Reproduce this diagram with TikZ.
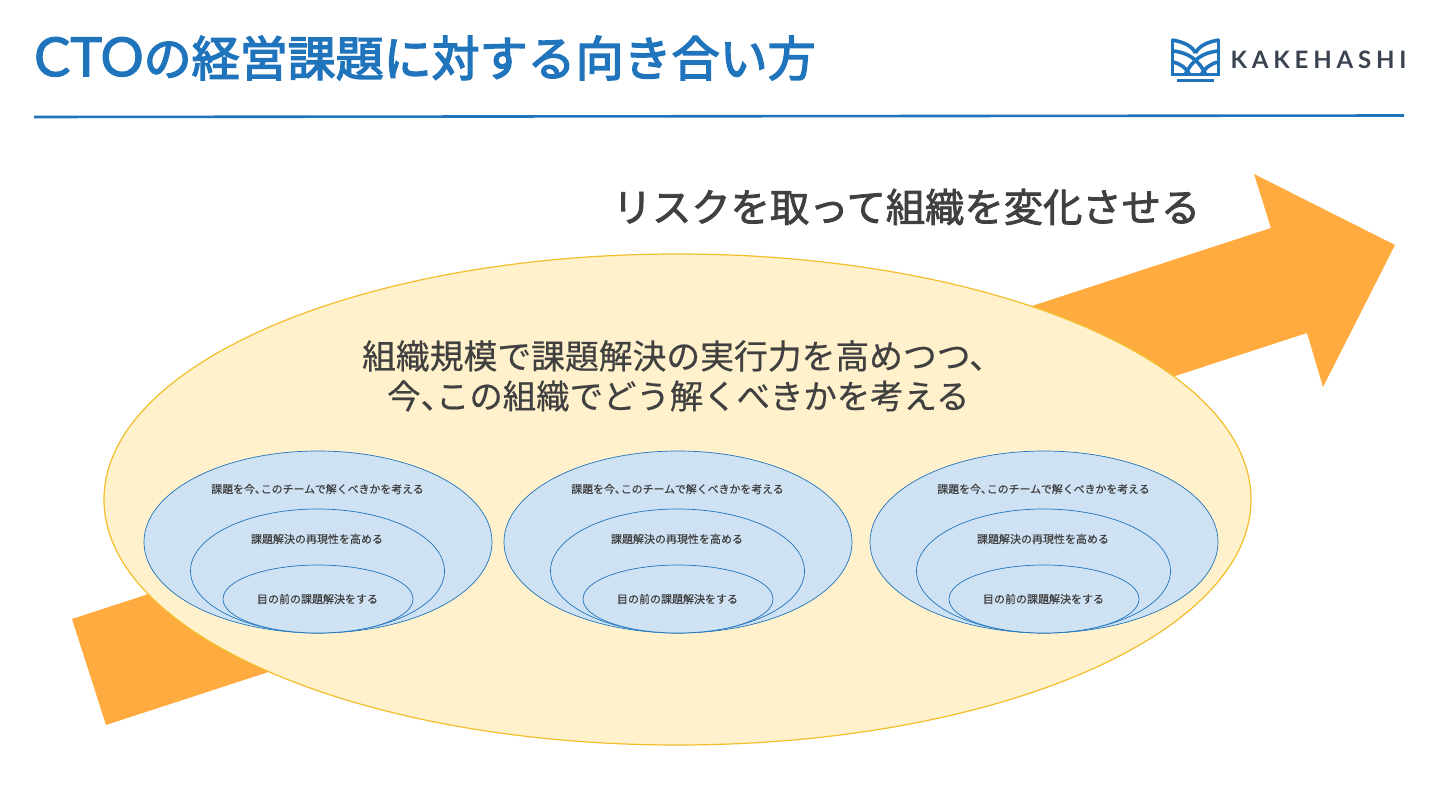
\documentclass[tikz,border=0pt]{standalone}
\usepackage{fontspec}
\setmainfont{Noto Sans CJK JP}
\newfontfamily\latinbold{Lato}
\newfontfamily\semibold[FakeBold=2]{Noto Sans CJK JP}
\newfontfamily\smallfont[FakeBold=0.5]{Noto Sans CJK JP}
\newfontfamily\titlefont[FakeBold=3]{Noto Sans CJK JP}
\newfontfamily\latintitle[FakeBold=2]{Lato}
\definecolor{kblue}{HTML}{1F74BC}
\definecolor{korange}{HTML}{FFAB40}
\definecolor{kcream}{HTML}{FFF1CC}
\definecolor{kgold}{HTML}{F2BE2C}
\definecolor{klight}{HTML}{CFE2F3}
\definecolor{ktext}{HTML}{404040}
\definecolor{kdark}{HTML}{3A4450}
\tikzset{
  outerell/.style={draw=kgold,fill=kcream,line width=1.2pt},
  blueell/.style={draw=kblue,fill=klight,line width=0.7pt},
  bigtxt/.style={text=ktext,inner sep=0pt,align=center},
  smalltxt/.style={text=ktext,inner sep=0pt,font=\smallfont\fontsize{11}{12}\selectfont},
  logoline/.style={draw=kblue,line width=3.6pt},
}
\begin{document}
\begin{tikzpicture}[x=1pt,y=-1pt]
\useasboundingbox (0,0) rectangle (1440,810);
\fill[white] (0,0) rectangle (1440,810);
\node[anchor=west,inner sep=0pt,text=kblue] (title) at (34,58) {{\fontsize{54}{56}\selectfont\latintitle CTO}\fontsize{48}{50}\selectfont\titlefont の経営課題に対する向き合い方};
\coordinate (ruleA) at (34,117);
\coordinate (ruleB) at (1404,115.5);
\draw[kblue,line width=2.6pt] (ruleA) -- (ruleB);
% logo
\begin{scope}
\clip (1171,38) rectangle (1220,76);
\draw[logoline] (1172.5,39) -- (1172.5,74.5) -- (1218.5,74.5) -- (1218.5,39);
\draw[logoline] (1172,40) .. controls (1184,42) and (1192,46) .. (1195.5,53);
\draw[logoline] (1219,40) .. controls (1207,42) and (1199,46) .. (1195.5,53);
\draw[logoline] (1172,51) .. controls (1188,52) and (1199,60) .. (1206,75);
\draw[logoline] (1219,51) .. controls (1203,52) and (1192,60) .. (1185,75);
\draw[logoline] (1172,62) .. controls (1180,63) and (1186,68) .. (1190,75);
\draw[logoline] (1219,62) .. controls (1211,63) and (1205,68) .. (1201,75);
\end{scope}
\fill[kblue] (1177,79.5) rectangle (1213.5,82.5);
\node[anchor=west,inner sep=0pt,text=kdark] (brand) at (1230.5,59.5) {\fontsize{24}{26}\selectfont\latinbold\bfseries K\kern4.8pt A\kern4.8pt K\kern4.8pt E\kern4.8pt H\kern4.8pt A\kern4.8pt S\kern4.8pt H\kern4.8pt I};
% arrow
\fill[korange] (72,619) -- (1271,228) -- (1254,174) -- (1395,245) -- (1323,387) -- (1307,333) -- (106,725) -- cycle;
\node[bigtxt,anchor=center] (riskText) at (906.5,207) {\semibold\fontsize{39.3}{42}\selectfont リスクを取って組織を変化させる};
% big ellipse
\draw[outerell] (677.5,499.5) ellipse [x radius=573.5,y radius=245.5];
\node[bigtxt,anchor=west,font=\smallfont\fontsize{33.8}{46}\selectfont] (orgTextA) at (362,356) {組織規模で課題解決の実行力を高めつつ、};
\node[bigtxt,anchor=west,font=\smallfont\fontsize{33.4}{46}\selectfont] (orgTextB) at (387,396) {今、\kern-18pt この組織でどう解くべきかを考える};
% groups
\foreach \cx/\nm in {318/a,678/b,1044/c}{
  \draw[blueell] (\cx,542) ellipse [x radius=174,y radius=91];
  \draw[blueell] (\cx-0.5,571) ellipse [x radius=127,y radius=62];
  \draw[blueell] (\cx,599) ellipse [x radius=95,y radius=34];
  \node[smalltxt] (t1\nm) at (\cx-0.5,489) {\fontsize{10.9}{12}\selectfont 課題を今、\kern-5pt このチームで解くべきかを考える};
  \node[smalltxt] (t2\nm) at (\cx-1,539) {課題解決の再現性を高める};
  \node[smalltxt] (t3\nm) at (\cx-0.5,599) {目の前の課題解決をする};
}
\end{tikzpicture}
\end{document}
